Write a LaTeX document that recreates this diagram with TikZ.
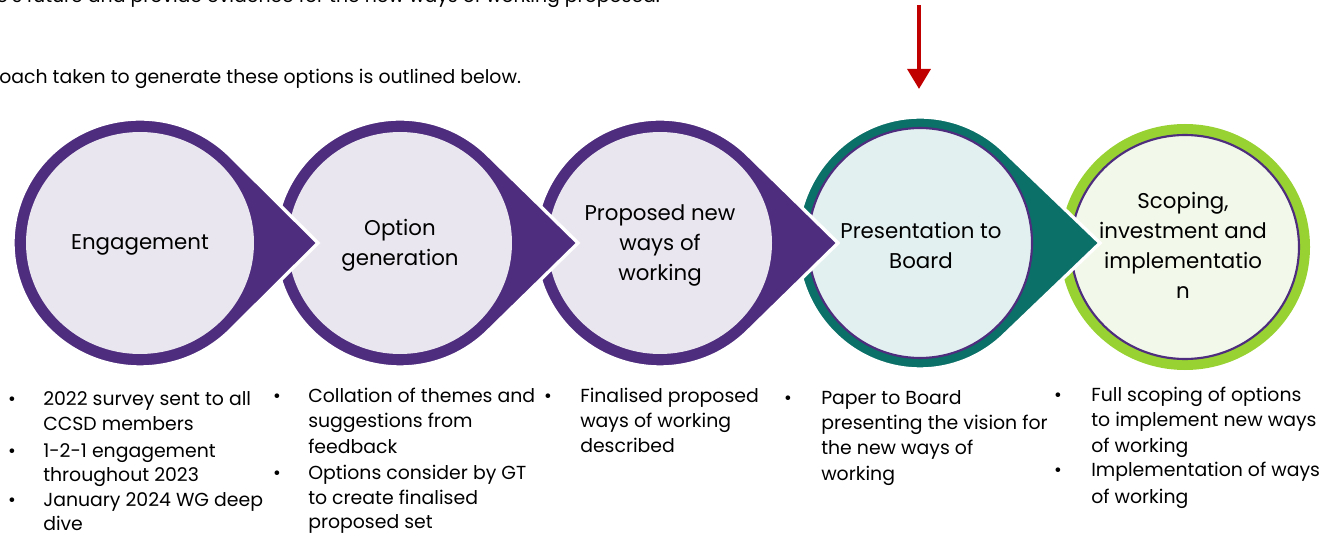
\documentclass[tikz,border=0pt]{standalone}
\usepackage{fontspec}
\setmainfont{Poppins}
\usetikzlibrary{arrows.meta,calc}
\definecolor{purp}{HTML}{4E2C7E}
\definecolor{lav}{HTML}{EAE6EF}
\definecolor{teal2}{HTML}{0B7068}
\definecolor{tealfill}{HTML}{E3F0F0}
\definecolor{lime}{HTML}{98D132}
\definecolor{limefill}{HTML}{F2F8EA}
\definecolor{redarrow}{HTML}{C00000}
\newcommand\tdrop[7]{% cx, cy, rx, ry, tipx, ring colour, theta
  \fill[#6, draw=white, line width=2.5] (#5,#2) -- ($(#1,#2)+(-#7:#3 and #4)$)
    arc[start angle=-#7, end angle=-360+#7, x radius=#3, y radius=#4] -- cycle;
}
\begin{document}
\begin{tikzpicture}[x=0.75pt,y=-0.75pt]
\useasboundingbox (0,0) rectangle (1322,535);
\tikzset{
  circtext/.style={font=\fontsize{16}{22.5}\selectfont, align=center, text=black, inner sep=0pt},
  bultext/.style={font=\fontsize{14.15}{18.5}\selectfont, anchor=mid west, inner sep=0pt, text=black},
  bulmark/.style={font=\fontsize{14.15}{18.5}\selectfont, anchor=mid, inner sep=0pt, text=black},
  innerring/.style={draw=purp, line width=1.6},
}
% top texts
\node[bultext, anchor=base west] (topline) at (-4,3) {e's future and provide evidence for the new ways of working proposed.};
\node[bultext] (approach) at (-1,80) {oach taken to generate these options is outlined below.};
% red arrow
\coordinate (arrtop) at (919,5);
\coordinate (arrbot) at (919,89);
\draw[redarrow, line width=3.2, -{Triangle[length=15, width=17]}] (arrtop) -- (arrbot);

% shape 5
\fill[lime] (1185,247) ellipse[x radius=125, y radius=123];
\filldraw[fill=limefill, innerring] (1185,247) ellipse[x radius=114, y radius=112];
% shape 4
\tdrop{920}{243}{123}{126}{1100}{teal2}{46}
\filldraw[fill=tealfill, innerring] (920,243) ellipse[x radius=112, y radius=115];
% shape 3
\tdrop{660}{243}{125}{124}{838}{purp}{46}
\fill[lav] (660,243) ellipse[x radius=112, y radius=111];
% shape 2
\tdrop{400}{243}{125}{124}{578}{purp}{46}
\fill[lav] (400,243) ellipse[x radius=112, y radius=111];
% shape 1
\tdrop{140}{243}{127}{124}{318}{purp}{46}
\fill[lav] (140,243) ellipse[x radius=114, y radius=111];

% circle texts
\node[circtext] (c1) at (140,245) {Engagement};
\node[circtext] (c2) at (400,245) {Option\\generation};
\node[circtext] (c3) at (660,245) {Proposed new\\ways of\\working};
\node[circtext] (c4) at (921,245) {Presentation to\\Board};
\node[circtext] (c5) at (1183,245) {Scoping,\\investment and\\implementatio\\n};

% column 1
\node[bulmark] (b11) at (12,402) {•};
\node[bultext] (t11a) at (43,402) {2022 survey sent to all};
\node[bultext] (t11b) at (43,427) {CCSD members};
\node[bulmark] (b12) at (12,454) {•};
\node[bultext] (t12a) at (43,454) {1-2-1 engagement};
\node[bultext] (t12b) at (43,478) {throughout 2023};
\node[bulmark] (b13) at (12,503) {•};
\node[bultext] (t13a) at (43,503) {January 2024 WG deep};
\node[bultext] (t13b) at (43,527) {dive};
% column 2
\node[bulmark] (b21) at (277,399) {•};
\node[bultext] (t21a) at (308,399) {Collation of themes and};
\node[bultext] (t21b) at (308,424) {suggestions from};
\node[bultext] (t21c) at (308,450) {feedback};
\node[bulmark] (b22) at (277,476) {•};
\node[bultext] (t22a) at (308,476) {Options consider by GT};
\node[bultext] (t22b) at (308,501) {to create finalised};
\node[bultext] (t22c) at (308,525) {proposed set};
% column 3
\node[bulmark] (b31) at (548,399) {•};
\node[bultext] (t31a) at (580,399) {Finalised proposed};
\node[bultext] (t31b) at (580,424) {ways of working};
\node[bultext] (t31c) at (580,449) {described};
% column 4
\node[bulmark] (b41) at (788,401) {•};
\node[bultext] (t41a) at (821,401) {Paper to Board};
\node[bultext] (t41b) at (821,426) {presenting the vision for};
\node[bultext] (t41c) at (821,451) {the new ways of};
\node[bultext] (t41d) at (821,477) {working};
% column 5
\node[bulmark] (b51) at (1058,398) {•};
\node[bultext] (t51a) at (1091,398) {Full scoping of options};
\node[bultext] (t51b) at (1091,423) {to implement new ways};
\node[bultext] (t51c) at (1091,449) {of working};
\node[bulmark] (b52) at (1058,473) {•};
\node[bultext] (t52a) at (1091,473) {Implementation of ways};
\node[bultext] (t52b) at (1091,500) {of working};
\end{tikzpicture}
\end{document}
